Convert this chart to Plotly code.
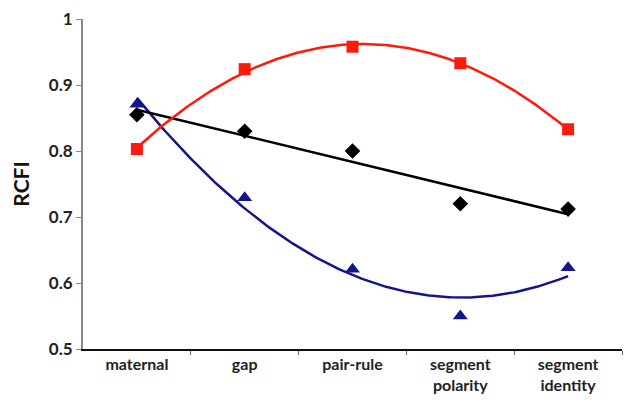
import numpy as np
import plotly.graph_objects as go

categories = ["maternal", "gap", "pair-rule", "segment<br>polarity", "segment<br>identity"]
red_values = [0.803, 0.924, 0.958, 0.933, 0.833]
black_values = [0.855, 0.830, 0.800, 0.720, 0.712]
blue_values = [0.871, 0.729, 0.621, 0.550, 0.623]
y_ticks = [0.5, 0.6, 0.7, 0.8, 0.9, 1.0]
y_ticktext = ["0.5", "0.6", "0.7", "0.8", "0.9", "1"]

x = np.arange(1, len(categories) + 1)
xf = np.linspace(1, len(categories), 200)

RED = "#FF1A0A"
BLACK = "#000000"
BLUE = "#14148C"

fig = go.Figure()

def trend(vals, deg, color):
    coef = np.polyfit(x, vals, deg)
    fig.add_trace(go.Scatter(x=xf, y=np.polyval(coef, xf), mode="lines",
                             line=dict(color=color, width=2.5), showlegend=False,
                             hoverinfo="skip"))

trend(blue_values, 2, BLUE)
trend(black_values, 1, BLACK)
trend(red_values, 2, RED)

fig.add_trace(go.Scatter(x=x, y=blue_values, mode="markers",
                         marker=dict(symbol="triangle-up", size=13, color=BLUE), showlegend=False))
fig.add_trace(go.Scatter(x=x, y=black_values, mode="markers",
                         marker=dict(symbol="diamond", size=12, color=BLACK), showlegend=False))
fig.add_trace(go.Scatter(x=x, y=red_values, mode="markers",
                         marker=dict(symbol="square", size=12, color=RED), showlegend=False))

fig.update_layout(
    width=624, height=394,
    margin=dict(l=75, r=10, t=11, b=53),
    plot_bgcolor="white", paper_bgcolor="white",
    font=dict(family="Lato, Open Sans, sans-serif", color="#222222"),
    xaxis=dict(
        range=[0.5, 5.5], tickvals=list(x), ticktext=categories, automargin=False,
        showgrid=False, zeroline=False, showline=True, linecolor="#111111", linewidth=1.5,
        ticks="", ticklen=6, tickfont=dict(size=16, family="Lato", weight="bold", color="#222222"),
        ticklabeloverflow="allow",
        minor=dict(tickvals=[1.5, 2.5, 3.5, 4.5, 5.5], ticks="outside", ticklen=4,
                   tickcolor="#666666", tickwidth=1, showgrid=False),
    ),
    yaxis=dict(
        range=[0.5, 1.0], tickvals=y_ticks, ticktext=y_ticktext, automargin=False,
        showgrid=False, zeroline=False, showline=True, linecolor="#888888", linewidth=2,
        ticks="outside", ticklen=5, tickcolor="#888888", tickwidth=1,
        ticklabeloverflow="allow",
        tickfont=dict(size=17, family="Lato", weight="bold", color="#222222"),
        title=dict(text="RCFI", font=dict(size=21, family="Lato", weight="bold", color="#111111"),
                   standoff=23),
    ),
)

fig.write_html("out.html")
